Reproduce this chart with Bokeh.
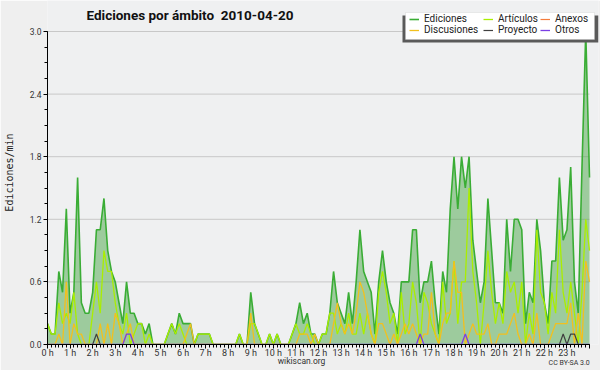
from bokeh.plotting import figure
from bokeh.models import (Range1d, FixedTicker, PrintfTickFormatter, Legend, LegendItem,
                          Label, BoxAnnotation, LinearAxis)
from bokeh.embed import file_html
from bokeh.resources import INLINE

# 10-minute slots from 0:00 to 24:00 (145 points), values in edits per minute
ediciones = [
    0.2, 0.1, 0.1, 0.7, 0.5, 1.3,
    0.3, 0.5, 1.6, 0.4, 0.3, 0.3,
    0.5, 1.1, 1.1, 1.4, 0.9, 0.7,
    0.6, 0.4, 0.2, 0.6, 0.3, 0.3,
    0.2, 0.2, 0.1, 0.2, 0.0, 0.0,
    0.0, 0.0, 0.1, 0.2, 0.1, 0.3,
    0.2, 0.2, 0.2, 0.0, 0.1, 0.1,
    0.1, 0.1, 0.0, 0.0, 0.0, 0.0,
    0.0, 0.0, 0.0, 0.1, 0.0, 0.0,
    0.5, 0.2, 0.1, 0.0, 0.0, 0.1,
    0.0, 0.1, 0.0, 0.0, 0.0, 0.1,
    0.2, 0.4, 0.2, 0.3, 0.1, 0.1,
    0.0, 0.1, 0.1, 0.3, 0.7, 0.4,
    0.3, 0.2, 0.5, 0.2, 0.6, 1.1,
    0.7, 0.6, 0.5, 0.1, 0.6, 0.9,
    0.6, 0.4, 0.3, 0.1, 0.6, 0.6,
    0.6, 1.1, 1.1, 0.4, 0.6, 0.6,
    0.8, 0.4, 0.1, 0.7, 0.5, 1.3,
    1.8, 1.3, 1.8, 1.5, 1.8, 1.0,
    0.7, 0.4, 0.6, 1.4, 0.9, 0.4,
    0.4, 0.3, 1.2, 0.7, 1.2, 1.2,
    1.1, 0.2, 0.5, 0.4, 1.2, 0.9,
    0.4, 0.2, 0.8, 0.8, 1.6, 1.0,
    1.1, 1.7, 0.6, 0.3, 1.7, 3.0,
    1.6,
]
articulos = [
    0.2, 0.1, 0.1, 0.4, 0.2, 0.3,
    0.2, 0.5, 0.1, 0.0, 0.0, 0.0,
    0.3, 0.6, 0.3, 0.9, 0.7, 0.7,
    0.4, 0.2, 0.1, 0.3, 0.0, 0.1,
    0.2, 0.2, 0.0, 0.1, 0.0, 0.0,
    0.0, 0.0, 0.1, 0.2, 0.1, 0.2,
    0.1, 0.0, 0.0, 0.0, 0.1, 0.1,
    0.1, 0.1, 0.0, 0.0, 0.0, 0.0,
    0.0, 0.0, 0.0, 0.1, 0.0, 0.0,
    0.2, 0.2, 0.1, 0.0, 0.0, 0.1,
    0.0, 0.1, 0.0, 0.0, 0.0, 0.1,
    0.2, 0.1, 0.1, 0.2, 0.1, 0.0,
    0.0, 0.1, 0.1, 0.3, 0.3, 0.1,
    0.2, 0.1, 0.3, 0.1, 0.1, 0.3,
    0.1, 0.3, 0.1, 0.0, 0.5, 0.7,
    0.5, 0.2, 0.3, 0.0, 0.5, 0.1,
    0.2, 0.6, 0.4, 0.0, 0.5, 0.4,
    0.2, 0.1, 0.0, 0.6, 0.2, 0.3,
    0.8, 0.2, 0.6, 0.6, 1.5, 0.7,
    0.4, 0.0, 0.4, 0.9, 0.5, 0.2,
    0.4, 0.2, 0.7, 0.5, 0.6, 0.3,
    0.6, 0.0, 0.3, 0.1, 1.1, 0.5,
    0.4, 0.1, 0.5, 0.3, 1.1, 0.5,
    0.3, 0.6, 0.3, 0.0, 0.5, 1.2,
    0.9,
]
anexos = [
    0.0, 0.0, 0.0, 0.0, 0.0, 0.0,  0.0, 0.0, 0.0, 0.0, 0.0, 0.0,
    0.0, 0.0, 0.0, 0.0, 0.0, 0.0,  0.0, 0.0, 0.0, 0.0, 0.0, 0.0,
    0.0, 0.0, 0.0, 0.0, 0.0, 0.0,  0.0, 0.0, 0.0, 0.0, 0.0, 0.0,
    0.0, 0.0, 0.0, 0.0, 0.0, 0.0,  0.0, 0.0, 0.0, 0.0, 0.0, 0.0,
    0.0, 0.0, 0.0, 0.0, 0.0, 0.0,  0.0, 0.0, 0.0, 0.0, 0.0, 0.0,
    0.0, 0.0, 0.0, 0.0, 0.0, 0.0,  0.0, 0.0, 0.0, 0.0, 0.0, 0.0,
    0.0, 0.0, 0.0, 0.0, 0.0, 0.0,  0.0, 0.0, 0.0, 0.0, 0.0, 0.0,
    0.0, 0.0, 0.0, 0.0, 0.0, 0.0,  0.0, 0.0, 0.0, 0.0, 0.0, 0.0,
    0.0, 0.0, 0.0, 0.0, 0.0, 0.0,  0.0, 0.0, 0.0, 0.0, 0.0, 0.0,
    0.0, 0.0, 0.0, 0.0, 0.0, 0.0,  0.0, 0.0, 0.0, 0.0, 0.0, 0.0,
    0.0, 0.0, 0.0, 0.0, 0.0, 0.0,  0.0, 0.0, 0.0, 0.0, 0.0, 0.0,
    0.0, 0.0, 0.0, 0.0, 0.0, 0.0,  0.0, 0.0, 0.0, 0.0, 0.0, 0.0,
    0.0,
]
discusiones = [
    0.0, 0.0, 0.0, 0.1, 0.0, 0.6,
    0.0, 0.2, 0.1, 0.1, 0.0, 0.0,
    0.0, 0.0, 0.2, 0.0, 0.2, 0.0,
    0.3, 0.2, 0.0, 0.1, 0.2, 0.0,
    0.0, 0.0, 0.0, 0.0, 0.0, 0.0,
    0.0, 0.0, 0.0, 0.0, 0.0, 0.0,
    0.0, 0.1, 0.2, 0.0, 0.0, 0.0,
    0.0, 0.0, 0.0, 0.0, 0.0, 0.0,
    0.0, 0.0, 0.0, 0.0, 0.0, 0.0,
    0.3, 0.0, 0.0, 0.0, 0.0, 0.0,
    0.0, 0.0, 0.0, 0.0, 0.0, 0.0,
    0.0, 0.1, 0.1, 0.1, 0.0, 0.1,
    0.0, 0.0, 0.0, 0.0, 0.2, 0.4,
    0.2, 0.1, 0.2, 0.1, 0.3, 0.6,
    0.5, 0.3, 0.1, 0.0, 0.2, 0.2,
    0.1, 0.0, 0.1, 0.0, 0.1, 0.2,
    0.1, 0.2, 0.1, 0.0, 0.1, 0.1,
    0.5, 0.1, 0.0, 0.2, 0.3, 0.3,
    0.8, 0.5, 0.5, 0.0, 0.1, 0.2,
    0.1, 0.1, 0.1, 0.2, 0.0, 0.0,
    0.1, 0.1, 0.1, 0.2, 0.3, 0.1,
    0.0, 0.0, 0.1, 0.0, 0.3, 0.0,
    0.0, 0.0, 0.1, 0.2, 0.2, 0.2,
    0.2, 0.4, 0.0, 0.3, 0.0, 0.8,
    0.6,
]
proyecto = [
    0.0, 0.0, 0.0, 0.0, 0.0, 0.0,  0.0, 0.0, 0.0, 0.0, 0.0, 0.0,
    0.0, 0.1, 0.0, 0.0, 0.0, 0.0,  0.0, 0.0, 0.0, 0.0, 0.0, 0.0,
    0.0, 0.0, 0.0, 0.0, 0.0, 0.0,  0.0, 0.0, 0.0, 0.0, 0.0, 0.0,
    0.0, 0.0, 0.0, 0.0, 0.0, 0.0,  0.0, 0.0, 0.0, 0.0, 0.0, 0.0,
    0.0, 0.0, 0.0, 0.0, 0.0, 0.0,  0.0, 0.0, 0.0, 0.0, 0.0, 0.0,
    0.0, 0.0, 0.0, 0.0, 0.0, 0.0,  0.0, 0.0, 0.0, 0.0, 0.0, 0.0,
    0.0, 0.0, 0.0, 0.0, 0.0, 0.0,  0.0, 0.0, 0.0, 0.0, 0.0, 0.0,
    0.0, 0.0, 0.0, 0.0, 0.0, 0.0,  0.0, 0.0, 0.0, 0.0, 0.0, 0.0,
    0.0, 0.0, 0.0, 0.0, 0.0, 0.0,  0.0, 0.0, 0.0, 0.0, 0.0, 0.0,
    0.0, 0.0, 0.0, 0.0, 0.0, 0.0,  0.0, 0.0, 0.0, 0.0, 0.0, 0.0,
    0.0, 0.0, 0.0, 0.0, 0.0, 0.0,  0.0, 0.0, 0.0, 0.0, 0.0, 0.0,
    0.0, 0.0, 0.0, 0.0, 0.0, 0.1,  0.0, 0.1, 0.1, 0.0, 0.0, 0.0,
    0.0,
]
otros = [
    0.0, 0.0, 0.0, 0.0, 0.0, 0.0,  0.0, 0.0, 0.0, 0.0, 0.0, 0.0,
    0.0, 0.0, 0.0, 0.0, 0.0, 0.0,  0.0, 0.0, 0.0, 0.1, 0.1, 0.0,
    0.0, 0.0, 0.0, 0.0, 0.0, 0.0,  0.0, 0.0, 0.0, 0.0, 0.0, 0.0,
    0.0, 0.0, 0.0, 0.0, 0.0, 0.0,  0.0, 0.0, 0.0, 0.0, 0.0, 0.0,
    0.0, 0.0, 0.0, 0.0, 0.0, 0.0,  0.0, 0.0, 0.0, 0.0, 0.0, 0.0,
    0.0, 0.0, 0.0, 0.0, 0.0, 0.0,  0.0, 0.0, 0.0, 0.0, 0.0, 0.0,
    0.0, 0.0, 0.0, 0.0, 0.0, 0.0,  0.0, 0.0, 0.0, 0.0, 0.0, 0.0,
    0.0, 0.0, 0.0, 0.0, 0.0, 0.0,  0.0, 0.0, 0.0, 0.0, 0.0, 0.0,
    0.0, 0.0, 0.0, 0.1, 0.0, 0.0,  0.0, 0.0, 0.0, 0.0, 0.0, 0.0,
    0.0, 0.0, 0.0, 0.1, 0.0, 0.0,  0.0, 0.0, 0.0, 0.0, 0.0, 0.0,
    0.0, 0.0, 0.0, 0.0, 0.0, 0.0,  0.0, 0.0, 0.0, 0.0, 0.0, 0.0,
    0.0, 0.0, 0.0, 0.0, 0.0, 0.0,  0.0, 0.0, 0.0, 0.0, 0.0, 0.0,
    0.0,
]
horas = [i / 6 for i in range(len(ediciones))]  # slot position in hours

hour_ticks = list(range(25))
hour_labels = ["0 h", "1 h", "2 h", "3 h", "4 h", "5 h", "6 h", "7 h", "8 h", "9 h",
               "10 h", "11 h", "12 h", "13 h", "14 h", "15 h", "16 h", "17 h", "18 h",
               "19 h", "20 h", "21 h", "22 h", "23 h", ""]
y_ticks = [0.0, 0.6, 1.2, 1.8, 2.4, 3.0]

FONT = "Roboto"
W, H = 600, 370
LEFT, BOTTOM = 46, 26          # frame starts at x=46, ends 26px above the bottom
PX_PER_H = 22.625              # horizontal scale (pixels per hour)
PX_PER_UNIT = 313 / 3.0        # vertical scale (pixels per edit/min)
frame_w = W - LEFT - 2
frame_h = H - BOTTOM

p = figure(width=W, height=H, title=None,
           x_range=Range1d(0, frame_w / PX_PER_H), y_range=Range1d(0, frame_h / PX_PER_UNIT),
           output_backend="svg", toolbar_location=None,
           min_border_left=LEFT, min_border_right=2, min_border_top=0, min_border_bottom=BOTTOM,
           background_fill_color="#eff0f1", border_fill_color="#efefef")
p.outline_line_color = None
p.xgrid.visible = False
p.ygrid.visible = False

# horizontal grid lines spanning the day only
p.segment(x0=hour_ticks[0], x1=hour_ticks[-1], y0=y_ticks[1:], y1=y_ticks[1:],
          line_color="#c8c8c8", line_width=1, level="underlay")

# area + lines
p.varea(x=horas, y1=0, y2=ediciones, fill_color="#4ca64a", fill_alpha=0.5)
r_ed = p.line(horas, ediciones, line_color="#3aad35", line_width=1.6)
r_ar = p.line(horas, articulos, line_color="#aaee00", line_width=1.3)
r_an = p.line(horas, anexos, line_color="#f47c3c", line_width=1.2)
r_di = p.line(horas, discusiones, line_color="#f2c01e", line_width=1.3)
r_pr = p.line(horas, proyecto, line_color="#404040", line_width=1.2)
r_ot = p.line(horas, otros, line_color="#7b3fe4", line_width=1.3)

# axes
xa = p.xaxis[0]
xa.ticker = FixedTicker(ticks=hour_ticks, minor_ticks=horas)
xa.major_label_overrides = {t: lab for t, lab in zip(hour_ticks, hour_labels)}
xa.bounds = (0, 24)
ya = p.yaxis[0]
ya.ticker = FixedTicker(ticks=y_ticks, minor_ticks=[k * 0.15 for k in range(21)])
ya.formatter = PrintfTickFormatter(format="%.1f")
ya.bounds = (0, 3.0)
ya.axis_label = "Ediciones/min"
ya.axis_label_text_font = "DejaVu Sans Mono"
ya.axis_label_text_font_size = "10px"
ya.axis_label_text_font_style = "normal"
ya.axis_label_text_color = "#222222"
ya.axis_label_standoff = 12
for ax in (xa, ya):
    ax.axis_line_color = "black"
    ax.axis_line_width = 1
    ax.major_tick_line_color = "black"
    ax.minor_tick_line_color = "black"
    ax.major_tick_in = 0
    ax.minor_tick_in = 0
    ax.major_tick_out = 4
    ax.minor_tick_out = 3
    ax.major_label_text_font = FONT
    ax.major_label_text_color = "#333333"
    ax.major_label_standoff = 2
xa.major_label_standoff = -1
xa.major_label_text_font_size = "9px"
xa.major_label_text_line_height = 1.0
ya.major_label_text_font_size = "8.5px"

# footer texts as label-only axes below the time axis
WIKI_POS, CC_POS = 11.25, 23.1
foot1 = LinearAxis(ticker=FixedTicker(ticks=[WIKI_POS]),
                   major_label_overrides={WIKI_POS: "wikiscan.org"})
foot2 = LinearAxis(ticker=FixedTicker(ticks=[CC_POS]),
                   major_label_overrides={CC_POS: "CC BY-SA 3.0"})
for ax, size, so in ((foot1, "8.5px", -5), (foot2, "7px", -10)):
    ax.axis_line_color = None
    ax.major_tick_line_color = None
    ax.minor_tick_line_color = None
    ax.major_tick_out = 0
    ax.major_label_standoff = so
    ax.major_label_text_font = FONT
    ax.major_label_text_font_size = size
    ax.major_label_text_line_height = 1.0
    ax.major_label_text_color = "#333333"
    p.add_layout(ax, "below")

# title (frame covers the top strip, coordinates from the frame's bottom-left)
p.add_layout(Label(x=85 - LEFT, y=frame_h - 14, x_units="screen", y_units="screen",
                   text="Ediciones por ámbito \u00a02010-04-20", text_font=FONT,
                   text_font_style="bold", text_font_size="13.5px", text_color="#111111",
                   text_baseline="middle"))

# legend: shadow, white box, then three columns of entries
def box(l, r, t, b, **kw):
    return BoxAnnotation(left=l - LEFT, right=r - LEFT, top=frame_h - t, bottom=frame_h - b,
                         left_units="screen", right_units="screen",
                         bottom_units="screen", top_units="screen", **kw)

# thin grey edge on the left and bottom of the picture
p.add_layout(box(0, 2, 0, 370, fill_color="#a8a8a8", fill_alpha=1.0, line_color=None))
p.add_layout(box(0, 600, 368, 370, fill_color="#a8a8a8", fill_alpha=1.0, line_color=None))

p.add_layout(box(401, 597, 15, 42, fill_color="#5a5a5a", fill_alpha=1.0, line_color=None))
p.add_layout(box(404, 593, 12, 39, fill_color="white", fill_alpha=1.0,
                 line_color="#c4c4c4", line_width=1))

columns = [
    (408, [("Ediciones", r_ed), ("Discusiones", r_di)]),
    (482, [("Artículos", r_ar), ("Proyecto", r_pr)]),
    (539, [("Anexos", r_an), ("Otros", r_ot)]),
]
for x_left, entries in columns:
    lg = Legend(items=[LegendItem(label=t, renderers=[r]) for t, r in entries],
                location=(x_left - LEFT, frame_h - 35), orientation="vertical")
    lg.background_fill_alpha = 0.0
    lg.border_line_color = None
    lg.label_text_font = FONT
    lg.label_text_font_size = "10px"
    lg.label_text_line_height = 0.7
    lg.label_text_color = "#222222"
    lg.label_height = 10
    lg.glyph_height = 10
    lg.glyph_width = 10
    lg.label_standoff = 5
    lg.spacing = 0
    lg.padding = 0
    lg.margin = 0
    p.add_layout(lg)

open("out.html", "w").write(file_html(p, INLINE))
